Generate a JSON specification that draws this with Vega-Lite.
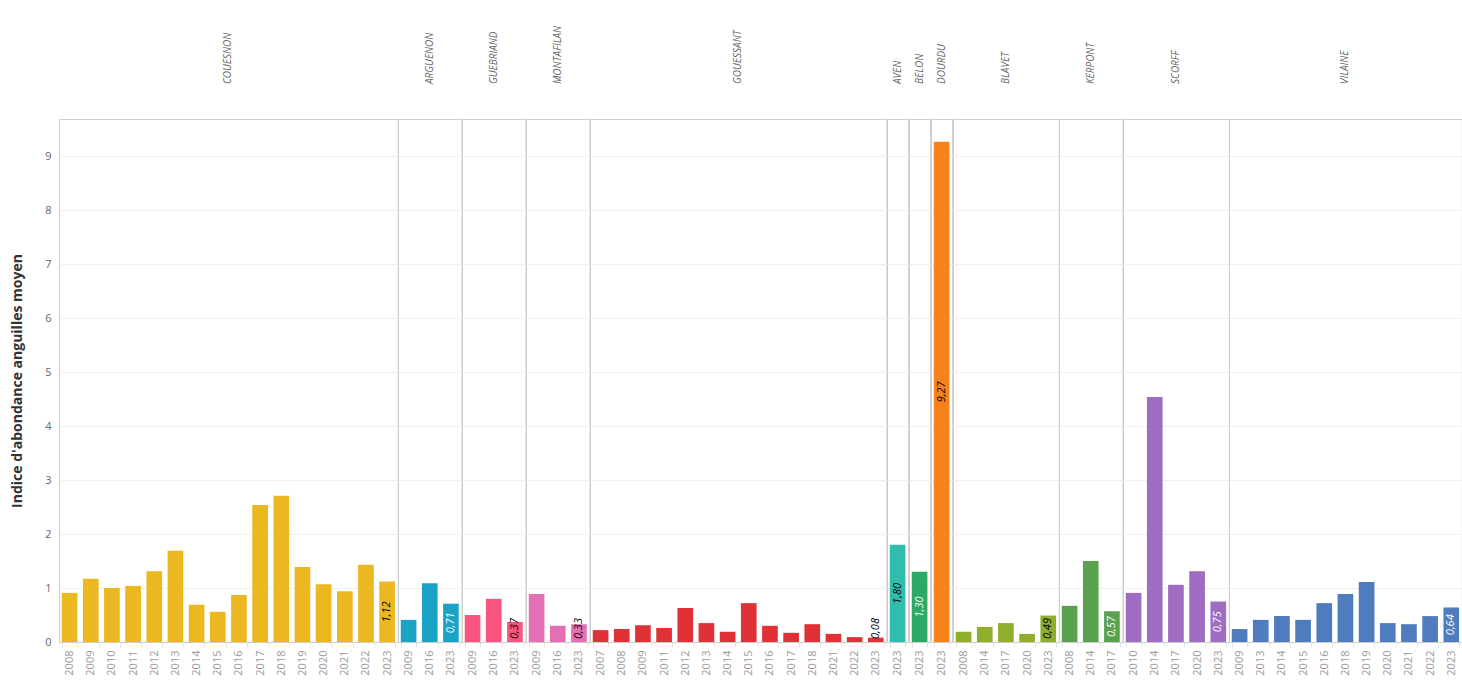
{
  "$schema": "https://vega.github.io/schema/vega-lite/v6.json",
  "padding": {"left": 10, "top": 25, "right": 0, "bottom": 0},
  "background": "white",
  "data": {"values": [
    {"river": "COUESNON", "year": "2008", "value": 0.91},
    {"river": "COUESNON", "year": "2009", "value": 1.17},
    {"river": "COUESNON", "year": "2010", "value": 1.0},
    {"river": "COUESNON", "year": "2011", "value": 1.04},
    {"river": "COUESNON", "year": "2012", "value": 1.31},
    {"river": "COUESNON", "year": "2013", "value": 1.69},
    {"river": "COUESNON", "year": "2014", "value": 0.69},
    {"river": "COUESNON", "year": "2015", "value": 0.56},
    {"river": "COUESNON", "year": "2016", "value": 0.87},
    {"river": "COUESNON", "year": "2017", "value": 2.54},
    {"river": "COUESNON", "year": "2018", "value": 2.71},
    {"river": "COUESNON", "year": "2019", "value": 1.39},
    {"river": "COUESNON", "year": "2020", "value": 1.07},
    {"river": "COUESNON", "year": "2021", "value": 0.94},
    {"river": "COUESNON", "year": "2022", "value": 1.43},
    {"river": "COUESNON", "year": "2023", "value": 1.12, "label": "1,12"},
    {"river": "ARGUENON", "year": "2009", "value": 0.41},
    {"river": "ARGUENON", "year": "2016", "value": 1.09},
    {"river": "ARGUENON", "year": "2023", "value": 0.71, "label": "0,71"},
    {"river": "GUEBRIAND", "year": "2009", "value": 0.5},
    {"river": "GUEBRIAND", "year": "2016", "value": 0.8},
    {"river": "GUEBRIAND", "year": "2023", "value": 0.37, "label": "0,37"},
    {"river": "MONTAFILAN", "year": "2009", "value": 0.89},
    {"river": "MONTAFILAN", "year": "2016", "value": 0.3},
    {"river": "MONTAFILAN", "year": "2023", "value": 0.33, "label": "0,33"},
    {"river": "GOUESSANT", "year": "2007", "value": 0.22},
    {"river": "GOUESSANT", "year": "2008", "value": 0.24},
    {"river": "GOUESSANT", "year": "2009", "value": 0.31},
    {"river": "GOUESSANT", "year": "2011", "value": 0.26},
    {"river": "GOUESSANT", "year": "2012", "value": 0.63},
    {"river": "GOUESSANT", "year": "2013", "value": 0.35},
    {"river": "GOUESSANT", "year": "2014", "value": 0.19},
    {"river": "GOUESSANT", "year": "2015", "value": 0.72},
    {"river": "GOUESSANT", "year": "2016", "value": 0.3},
    {"river": "GOUESSANT", "year": "2017", "value": 0.17},
    {"river": "GOUESSANT", "year": "2018", "value": 0.33},
    {"river": "GOUESSANT", "year": "2021", "value": 0.15},
    {"river": "GOUESSANT", "year": "2022", "value": 0.09},
    {"river": "GOUESSANT", "year": "2023", "value": 0.08, "label": "0,08"},
    {"river": "AVEN", "year": "2023", "value": 1.8, "label": "1,80"},
    {"river": "BELON", "year": "2023", "value": 1.3, "label": "1,30"},
    {"river": "DOURDU", "year": "2023", "value": 9.27, "label": "9,27"},
    {"river": "BLAVET", "year": "2008", "value": 0.19},
    {"river": "BLAVET", "year": "2014", "value": 0.28},
    {"river": "BLAVET", "year": "2017", "value": 0.35},
    {"river": "BLAVET", "year": "2020", "value": 0.15},
    {"river": "BLAVET", "year": "2023", "value": 0.49, "label": "0,49"},
    {"river": "KERPONT", "year": "2008", "value": 0.67},
    {"river": "KERPONT", "year": "2014", "value": 1.5},
    {"river": "KERPONT", "year": "2017", "value": 0.57, "label": "0,57"},
    {"river": "SCORFF", "year": "2010", "value": 0.91},
    {"river": "SCORFF", "year": "2014", "value": 4.54},
    {"river": "SCORFF", "year": "2017", "value": 1.06},
    {"river": "SCORFF", "year": "2020", "value": 1.31},
    {"river": "SCORFF", "year": "2023", "value": 0.75, "label": "0,75"},
    {"river": "VILAINE", "year": "2009", "value": 0.24},
    {"river": "VILAINE", "year": "2013", "value": 0.41},
    {"river": "VILAINE", "year": "2014", "value": 0.48},
    {"river": "VILAINE", "year": "2015", "value": 0.41},
    {"river": "VILAINE", "year": "2016", "value": 0.72},
    {"river": "VILAINE", "year": "2018", "value": 0.89},
    {"river": "VILAINE", "year": "2019", "value": 1.11},
    {"river": "VILAINE", "year": "2020", "value": 0.35},
    {"river": "VILAINE", "year": "2021", "value": 0.33},
    {"river": "VILAINE", "year": "2022", "value": 0.48},
    {"river": "VILAINE", "year": "2023", "value": 0.64, "label": "0,64"}
  ]},
  "facet": {
    "column": {
      "field": "river",
      "type": "nominal",
      "sort": ["COUESNON", "ARGUENON", "GUEBRIAND", "MONTAFILAN", "GOUESSANT", "AVEN", "BELON", "DOURDU", "BLAVET", "KERPONT", "SCORFF", "VILAINE"],
      "title": null,
      "header": {
        "labelAngle": -90,
        "labelAlign": "right",
        "labelBaseline": "middle",
        "labelOrient": "top",
        "labelPadding": 35,
        "labelFont": "Open Sans",
        "labelFontStyle": "italic",
        "labelFontSize": 10,
        "labelColor": "#666666"
      }
    }
  },
  "spacing": 0,
  "bounds": "flush",
  "resolve": {"scale": {"x": "independent"}},
  "spec": {
    "width": {"step": 21.17},
    "height": 523,
    "layer": [
      {
        "mark": {"type": "bar"},
        "encoding": {
          "x": {
            "field": "year",
            "type": "ordinal",
            "title": null,
            "scale": {"paddingInner": 0.26, "paddingOuter": 0.13},
            "axis": {
              "labelAngle": -90,
              "labelFont": "Open Sans",
              "labelFontSize": 11,
              "labelColor": "#999999",
              "labelPadding": 3,
              "domainColor": "#cccccc",
              "tickColor": "#e6e6e6",
              "tickBand": "extent",
              "tickSize": 5
            }
          },
          "y": {
            "field": "value",
            "type": "quantitative",
            "title": "Indice d'abondance anguilles moyen",
            "scale": {"domain": [0, 9.69], "nice": false},
            "axis": {
              "values": [0, 1, 2, 3, 4, 5, 6, 7, 8, 9],
              "format": "d",
              "labelFont": "Open Sans",
              "labelFontSize": 11,
              "labelColor": "#666666",
              "labelPadding": 8,
              "ticks": false,
              "domain": false,
              "gridColor": "#efefef",
              "titleFont": "Open Sans",
              "titleFontSize": 14,
              "titleFontWeight": "bold",
              "titleColor": "#333333",
              "titlePadding": 20
            }
          },
          "color": {
            "field": "river",
            "type": "nominal",
            "legend": null,
            "scale": {
              "domain": ["COUESNON", "ARGUENON", "GUEBRIAND", "MONTAFILAN", "GOUESSANT", "AVEN", "BELON", "DOURDU", "BLAVET", "KERPONT", "SCORFF", "VILAINE"],
              "range": ["#ebb821", "#1ba3c6", "#fa5580", "#e46fb5", "#e03236", "#31bdae", "#2ea867", "#f7821a", "#8fae2c", "#5aa14e", "#9e6cc0", "#4e7cbd"]
            }
          }
        }
      },
      {
        "transform": [
          {"filter": "isValid(datum.label)"},
          {"calculate": "max(datum.value / 2, 0.25)", "as": "labelY"}
        ],
        "mark": {
          "type": "text",
          "angle": 270,
          "align": "center",
          "baseline": "middle",
          "font": "Open Sans",
          "fontStyle": "italic",
          "fontSize": 11
        },
        "encoding": {
          "x": {"field": "year", "type": "ordinal"},
          "y": {"field": "labelY", "type": "quantitative"},
          "text": {"field": "label"},
          "color": {
            "condition": {
              "test": "indexof(['ARGUENON','BELON','KERPONT','SCORFF','VILAINE'], datum.river) >= 0",
              "value": "white"
            },
            "value": "black"
          }
        }
      }
    ]
  },
  "config": {
    "view": {"stroke": "#cccccc", "strokeWidth": 1}
  }
}
